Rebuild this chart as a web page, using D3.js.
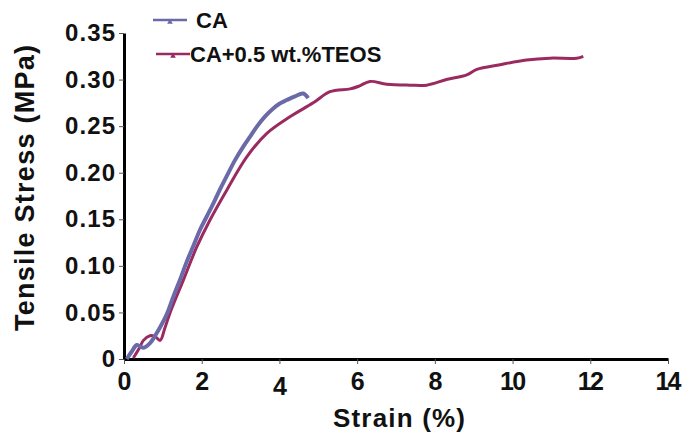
<!DOCTYPE html>
<html>
<head>
<meta charset="utf-8">
<script src="https://cdnjs.cloudflare.com/ajax/libs/d3/7.8.5/d3.min.js"></script>
<style>
	body { margin: 0; background: #fff; }
	text { font-family: "Liberation Sans", Arial, sans-serif; font-weight: bold; fill: #111; }
</style>
</head>
<body>
<svg id="chart" width="684" height="434"></svg>
<script>

// values
var caStrain  = [0.07, 0.2, 0.33, 0.5, 0.67, 0.8, 0.93, 1.1, 1.27, 1.45, 1.61, 1.8, 1.96, 2.13, 2.30, 2.47, 2.64, 2.85, 3.07, 3.25, 3.41, 3.62, 3.84, 4.0, 4.19, 4.4, 4.61, 4.74];
var caStress  = [0.0, 0.008, 0.015, 0.012, 0.017, 0.025, 0.034, 0.048, 0.067, 0.086, 0.104, 0.123, 0.139, 0.153, 0.167, 0.182, 0.196, 0.213, 0.228, 0.239, 0.249, 0.260, 0.269, 0.274, 0.278, 0.282, 0.285, 0.280];

var teosStrain = [0.24, 0.4, 0.5, 0.67, 0.8, 0.93, 1.05, 1.18, 1.53, 1.87, 2.21, 2.64, 3.16, 3.67, 4.27, 4.87, 5.30, 5.82, 6.05, 6.33, 6.76, 7.36, 7.79, 8.30, 8.82, 9.08, 9.68, 10.36, 10.96, 11.65, 11.82];
var teosStress = [0.001, 0.012, 0.02, 0.025, 0.024, 0.02, 0.033, 0.049, 0.085, 0.120, 0.149, 0.181, 0.217, 0.242, 0.260, 0.275, 0.287, 0.290, 0.293, 0.298, 0.295, 0.294, 0.294, 0.300, 0.305, 0.311, 0.316, 0.321, 0.323, 0.323, 0.325];

var xTicks = [0, 2, 4, 6, 8, 10, 12, 14];
var yTicks = [0, 0.05, 0.10, 0.15, 0.20, 0.25, 0.30, 0.35];

var seriesNames = ["CA", "CA+0.5 wt.%TEOS"];
var seriesColors = ["#6a6aa8", "#9a2a60"];

var svg = d3.select("#chart");

var x = d3.scaleLinear().domain([0, 14]).range([124, 668]);
var y = d3.scaleLinear().domain([0, 0.35]).range([359, 33]);

// x axis
var xAxis = svg.append("g")
	.attr("transform", "translate(0," + y(0) + ")")
	.call(d3.axisBottom(x).tickValues(xTicks).tickSize(5).tickSizeOuter(0).tickFormat(d3.format("d")));
xAxis.select(".domain").attr("stroke", "#000").attr("stroke-width", 3);
xAxis.selectAll(".tick line").attr("stroke", "#555").attr("stroke-width", 1);
// the "4" sits a bit lower in the original
xAxis.selectAll(".tick text")
	.attr("y", 10)
	.attr("dy", function(d) { return d == 4 ? "1.05em" : "0.85em"; })
	.style("font-size", "25px")
	.attr("textLength", function(d) { return d >= 10 ? 26 : 13; });

// y axis
var yAxis = svg.append("g")
	.attr("transform", "translate(" + x(0) + ",0)")
	.call(d3.axisLeft(y).tickValues(yTicks).tickSize(5).tickSizeOuter(0)
		.tickFormat(function(d) { return d == 0 ? "0" : d3.format(".2f")(d); }));
yAxis.select(".domain").attr("stroke", "#000").attr("stroke-width", 3);
yAxis.selectAll(".tick line").attr("stroke", "#555").attr("stroke-width", 1);
yAxis.selectAll(".tick text")
	.attr("x", -9)
	.style("font-size", "24px")
	.attr("textLength", function(d) { return d == 0 ? 13 : 50; });

// axis titles
svg.append("text")
	.attr("x", 399).attr("y", 427)
	.attr("text-anchor", "middle")
	.style("font-size", "26px")
	.attr("textLength", 132)
	.text("Strain (%)");

svg.append("text")
	.attr("transform", "translate(34,188) rotate(-90)")
	.attr("text-anchor", "middle")
	.style("font-size", "27px")
	.attr("textLength", 286)
	.text("Tensile Stress (MPa)");

// curves
var line = d3.line()
	.x(function(d) { return x(d[0]); })
	.y(function(d) { return y(d[1]); })
	.curve(d3.curveCatmullRom);

var teosData = d3.zip(teosStrain, teosStress);
var caData = d3.zip(caStrain, caStress);

svg.append("path")
	.datum(teosData)
	.attr("fill", "none")
	.attr("stroke", seriesColors[1])
	.attr("stroke-width", 3)
	.attr("d", line);

svg.append("path")
	.datum(caData)
	.attr("fill", "none")
	.attr("stroke", seriesColors[0])
	.attr("stroke-width", 4)
	.attr("d", line);

// legend
var legend = svg.append("g");
var legendY = [20, 54];
var legendX1 = [153, 156];
var textX = [196, 190];
seriesNames.forEach(function(name, i) {
	legend.append("line")
		.attr("x1", legendX1[i]).attr("x2", legendX1[i] + 34)
		.attr("y1", legendY[i]).attr("y2", legendY[i])
		.attr("stroke", seriesColors[i]).attr("stroke-width", 2.5);
	legend.append("path")
		.attr("d", d3.symbol().type(d3.symbolTriangle).size(14)())
		.attr("transform", "translate(" + (legendX1[i] + 17) + "," + (legendY[i] + 2) + ")")
		.attr("fill", seriesColors[i]);
	legend.append("text")
		.attr("x", textX[i]).attr("y", legendY[i] + 8)
		.style("font-size", "22px")
		.text(name);
});

</script>
</body>
</html>
